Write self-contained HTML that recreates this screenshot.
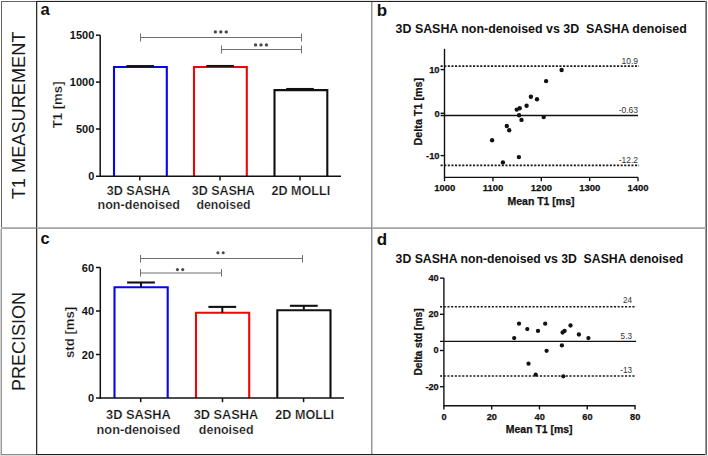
<!DOCTYPE html>
<html><head><meta charset="utf-8"><title>Figure</title>
<style>
html,body{margin:0;padding:0;background:#fff;}
body{width:708px;height:456px;overflow:hidden;}
svg{display:block;font-family:"Liberation Sans", sans-serif;}
text.t{stroke:#fff;stroke-width:0.22px;paint-order:fill;}
text.k{stroke:#111;stroke-width:0.25px;}
</style></head><body>
<svg width="708" height="456" viewBox="0 0 708 456">
<rect width="708" height="456" fill="#fff"/>
<rect x="37" y="0" width="670" height="1" fill="#e8e8e8"/>
<rect x="1" y="1" width="35" height="1" fill="#666"/>
<rect x="36" y="1" width="671" height="1" fill="#222"/>
<rect x="1" y="1" width="1" height="227" fill="#666"/>
<rect x="0" y="229" width="1" height="227" fill="#d0d0d0"/>
<rect x="1" y="229" width="1" height="226" fill="#999"/>
<rect x="0" y="455" width="708" height="1" fill="#dcdcdc"/>
<rect x="1" y="454" width="35" height="1" fill="#888"/>
<rect x="36" y="454" width="671" height="1" fill="#1e1e1e"/>
<rect x="705" y="1" width="1" height="454" fill="#9a9a9a"/>
<rect x="706" y="1" width="1" height="454" fill="#626262"/>
<rect x="36" y="1" width="1" height="454" fill="#2a2a2a"/>
<rect x="37" y="2" width="1" height="452" fill="#c4c4c4"/>
<rect x="371" y="2" width="1" height="452" fill="#999"/>
<rect x="372" y="2" width="1" height="452" fill="#c8c8c8"/>
<rect x="1" y="227" width="705" height="1" fill="#b8b8b8"/>
<rect x="1" y="228" width="705" height="1" fill="#a8a8a8"/>
<rect x="36" y="227" width="1" height="2" fill="#555"/>
<rect x="371" y="227" width="1" height="2" fill="#888"/>
<text transform="translate(24.6,115.4) rotate(-90)" font-size="18.2" font-weight="normal" text-anchor="middle" fill="#1a1a1a">T1 MEASUREMENT</text>
<text transform="translate(24.8,341.5) rotate(-90)" font-size="18" font-weight="normal" text-anchor="middle" fill="#1a1a1a">PRECISION</text>
<text x="40.4" y="15.2" font-size="16.6" font-weight="bold" text-anchor="start" fill="#111" >a</text>
<text x="376.7" y="15.5" font-size="17" font-weight="bold" text-anchor="start" fill="#111" >b</text>
<text x="40.6" y="244.4" font-size="16.4" font-weight="bold" text-anchor="start" fill="#111" >c</text>
<text x="376.7" y="244.6" font-size="17" font-weight="bold" text-anchor="start" fill="#111" >d</text>
<path d="M114.0,176.2 V67.0 H166.8 V176.2" fill="none" stroke="#0505f0" stroke-width="2.1" stroke-linejoin="miter"/>
<path d="M194.0,176.2 V67.0 H246.8 V176.2" fill="none" stroke="#ee0505" stroke-width="2.1" stroke-linejoin="miter"/>
<path d="M274.5,176.2 V90.1 H327.29999999999995 V176.2" fill="none" stroke="#111" stroke-width="2.1" stroke-linejoin="miter"/>
<line x1="126.39999999999999" y1="66.0" x2="154.0" y2="66.0" stroke="#111" stroke-width="1.9" />
<line x1="206.29999999999998" y1="65.9" x2="233.9" y2="65.9" stroke="#111" stroke-width="1.9" />
<line x1="286.2" y1="89.1" x2="313.8" y2="89.1" stroke="#111" stroke-width="2.3" />
<line x1="100.2" y1="35.2" x2="100.2" y2="177" stroke="#111" stroke-width="1.5" />
<line x1="96" y1="35.2" x2="100.2" y2="35.2" stroke="#111" stroke-width="1.5" />
<line x1="96" y1="82.1" x2="100.2" y2="82.1" stroke="#111" stroke-width="1.5" />
<line x1="96" y1="129.0" x2="100.2" y2="129.0" stroke="#111" stroke-width="1.5" />
<line x1="96" y1="176.2" x2="341" y2="176.2" stroke="#111" stroke-width="1.5" />
<line x1="139.8" y1="176.2" x2="139.8" y2="180.4" stroke="#111" stroke-width="1.5" />
<line x1="220" y1="176.2" x2="220" y2="180.4" stroke="#111" stroke-width="1.5" />
<line x1="300" y1="176.2" x2="300" y2="180.4" stroke="#111" stroke-width="1.5" />
<text x="94.3" y="39.2" font-size="11.5" font-weight="bold" text-anchor="end" fill="#111" textLength="24.46" lengthAdjust="spacingAndGlyphs" >1500</text>
<text x="94.3" y="86.1" font-size="11.5" font-weight="bold" text-anchor="end" fill="#111" textLength="24.46" lengthAdjust="spacingAndGlyphs" >1000</text>
<text x="94.3" y="133.0" font-size="11.5" font-weight="bold" text-anchor="end" fill="#111" textLength="18.35" lengthAdjust="spacingAndGlyphs" >500</text>
<text x="94.3" y="180.2" font-size="11.5" font-weight="bold" text-anchor="end" fill="#111" textLength="6.12" lengthAdjust="spacingAndGlyphs" >0</text>
<text class="t" transform="translate(61.5,104.9) rotate(-90)" font-size="13.2" font-weight="bold" text-anchor="middle" fill="#111">T1 [ms]</text>
<line x1="140.5" y1="37.5" x2="301.5" y2="37.5" stroke="#707070" stroke-width="1" />
<line x1="140.5" y1="33.5" x2="140.5" y2="41.5" stroke="#707070" stroke-width="1" />
<line x1="301.5" y1="33.5" x2="301.5" y2="41.5" stroke="#707070" stroke-width="1" />
<line x1="221.5" y1="49.5" x2="301.5" y2="49.5" stroke="#707070" stroke-width="1" />
<line x1="221.5" y1="45.5" x2="221.5" y2="53.5" stroke="#707070" stroke-width="1" />
<line x1="301.5" y1="45.5" x2="301.5" y2="53.5" stroke="#707070" stroke-width="1" />
<circle cx="215.35" cy="31.9" r="1.7" fill="#4a4a4a"/>
<circle cx="220.80" cy="31.9" r="1.7" fill="#4a4a4a"/>
<circle cx="226.25" cy="31.9" r="1.7" fill="#4a4a4a"/>
<circle cx="255.55" cy="44.9" r="1.7" fill="#4a4a4a"/>
<circle cx="261.00" cy="44.9" r="1.7" fill="#4a4a4a"/>
<circle cx="266.45" cy="44.9" r="1.7" fill="#4a4a4a"/>
<text class="t" x="138.5" y="194.7" font-size="12.3" font-weight="bold" text-anchor="middle" fill="#111" textLength="63.6" lengthAdjust="spacingAndGlyphs" >3D SASHA</text>
<text class="t" x="138.7" y="209.3" font-size="12.3" font-weight="bold" text-anchor="middle" fill="#111" textLength="82.4" lengthAdjust="spacingAndGlyphs" >non-denoised</text>
<text class="t" x="223.3" y="194.7" font-size="12.3" font-weight="bold" text-anchor="middle" fill="#111" textLength="63.2" lengthAdjust="spacingAndGlyphs" >3D SASHA</text>
<text class="t" x="223.5" y="209.3" font-size="12.3" font-weight="bold" text-anchor="middle" fill="#111" textLength="54.1" lengthAdjust="spacingAndGlyphs" >denoised</text>
<text class="t" x="300.85" y="194.7" font-size="12.3" font-weight="bold" text-anchor="middle" fill="#111" textLength="58.6" lengthAdjust="spacingAndGlyphs" >2D MOLLI</text>
<path d="M114.5,398 V287.3 H167.7 V398" fill="none" stroke="#0505f0" stroke-width="2.1" stroke-linejoin="miter"/>
<path d="M196.0,398 V312.7 H249.2 V398" fill="none" stroke="#ee0505" stroke-width="2.1" stroke-linejoin="miter"/>
<path d="M277.29999999999995,398 V310.2 H330.5 V398" fill="none" stroke="#111" stroke-width="2.1" stroke-linejoin="miter"/>
<line x1="127.1" y1="282.5" x2="154.9" y2="282.5" stroke="#111" stroke-width="2.1" />
<line x1="141.0" y1="282.5" x2="141.0" y2="287.3" stroke="#111" stroke-width="2" />
<line x1="208.4" y1="306.9" x2="236.20000000000002" y2="306.9" stroke="#111" stroke-width="2.1" />
<line x1="222.3" y1="306.9" x2="222.3" y2="312.7" stroke="#111" stroke-width="2" />
<line x1="289.90000000000003" y1="305.8" x2="317.7" y2="305.8" stroke="#111" stroke-width="2.1" />
<line x1="303.8" y1="305.8" x2="303.8" y2="310.2" stroke="#111" stroke-width="2" />
<line x1="100.3" y1="267.5" x2="100.3" y2="399" stroke="#111" stroke-width="1.5" />
<line x1="96" y1="267.5" x2="100.3" y2="267.5" stroke="#111" stroke-width="1.5" />
<line x1="96" y1="311.0" x2="100.3" y2="311.0" stroke="#111" stroke-width="1.5" />
<line x1="96" y1="354.5" x2="100.3" y2="354.5" stroke="#111" stroke-width="1.5" />
<line x1="96" y1="398" x2="344" y2="398" stroke="#111" stroke-width="1.5" />
<line x1="140.7" y1="398" x2="140.7" y2="402.2" stroke="#111" stroke-width="1.5" />
<line x1="222.5" y1="398" x2="222.5" y2="402.2" stroke="#111" stroke-width="1.5" />
<line x1="303.6" y1="398" x2="303.6" y2="402.2" stroke="#111" stroke-width="1.5" />
<text x="94.0" y="271.5" font-size="11.5" font-weight="bold" text-anchor="end" fill="#111" textLength="12.23" lengthAdjust="spacingAndGlyphs" >60</text>
<text x="94.0" y="315.0" font-size="11.5" font-weight="bold" text-anchor="end" fill="#111" textLength="12.23" lengthAdjust="spacingAndGlyphs" >40</text>
<text x="94.0" y="358.5" font-size="11.5" font-weight="bold" text-anchor="end" fill="#111" textLength="12.23" lengthAdjust="spacingAndGlyphs" >20</text>
<text x="94.0" y="402.0" font-size="11.5" font-weight="bold" text-anchor="end" fill="#111" textLength="6.12" lengthAdjust="spacingAndGlyphs" >0</text>
<text class="t" transform="translate(73.6,332.4) rotate(-90)" font-size="13.2" font-weight="bold" text-anchor="middle" fill="#111">std [ms]</text>
<line x1="140.5" y1="258.5" x2="302.5" y2="258.5" stroke="#707070" stroke-width="1" />
<line x1="140.5" y1="255" x2="140.5" y2="262.5" stroke="#707070" stroke-width="1" />
<line x1="302.5" y1="255" x2="302.5" y2="262.5" stroke="#707070" stroke-width="1" />
<line x1="140.5" y1="273" x2="221.5" y2="273" stroke="#707070" stroke-width="1.2" />
<line x1="140.5" y1="269" x2="140.5" y2="276.6" stroke="#707070" stroke-width="1" />
<line x1="221.5" y1="269" x2="221.5" y2="276.6" stroke="#707070" stroke-width="1" />
<circle cx="217.90" cy="252.8" r="1.55" fill="#4a4a4a"/>
<circle cx="223.20" cy="252.8" r="1.55" fill="#4a4a4a"/>
<circle cx="177.45" cy="269.6" r="1.55" fill="#4a4a4a"/>
<circle cx="182.75" cy="269.6" r="1.55" fill="#4a4a4a"/>
<text class="t" x="138.4" y="419.0" font-size="12.3" font-weight="bold" text-anchor="middle" fill="#111" textLength="64.7" lengthAdjust="spacingAndGlyphs" >3D SASHA</text>
<text class="t" x="138.4" y="433.8" font-size="12.3" font-weight="bold" text-anchor="middle" fill="#111" textLength="83.7" lengthAdjust="spacingAndGlyphs" >non-denoised</text>
<text class="t" x="226" y="419.0" font-size="12.3" font-weight="bold" text-anchor="middle" fill="#111" textLength="64.7" lengthAdjust="spacingAndGlyphs" >3D SASHA</text>
<text class="t" x="226.2" y="433.8" font-size="12.3" font-weight="bold" text-anchor="middle" fill="#111" textLength="54.7" lengthAdjust="spacingAndGlyphs" >denoised</text>
<text class="t" x="304.7" y="419.0" font-size="12.3" font-weight="bold" text-anchor="middle" fill="#111" textLength="58.8" lengthAdjust="spacingAndGlyphs" >2D MOLLI</text>
<text x="395.6" y="33.0" font-size="12.3" font-weight="bold" text-anchor="start" fill="#111" textLength="291.2" lengthAdjust="spacingAndGlyphs" >3D SASHA non-denoised vs 3D&#160; SASHA denoised</text>
<line x1="444.5" y1="48.8" x2="444.5" y2="181.2" stroke="#111" stroke-width="1.4" />
<line x1="440.6" y1="69.6" x2="444.5" y2="69.6" stroke="#111" stroke-width="1.4" />
<line x1="440.6" y1="113.3" x2="444.5" y2="113.3" stroke="#111" stroke-width="1.4" />
<line x1="440.6" y1="155.6" x2="444.5" y2="155.6" stroke="#111" stroke-width="1.4" />
<line x1="444.5" y1="177.4" x2="638.2" y2="177.4" stroke="#111" stroke-width="1.4" />
<line x1="492.95000000000005" y1="177.4" x2="492.95000000000005" y2="181.2" stroke="#111" stroke-width="1.4" />
<line x1="541.3000000000001" y1="177.4" x2="541.3000000000001" y2="181.2" stroke="#111" stroke-width="1.4" />
<line x1="589.65" y1="177.4" x2="589.65" y2="181.2" stroke="#111" stroke-width="1.4" />
<line x1="638.0" y1="177.4" x2="638.0" y2="181.2" stroke="#111" stroke-width="1.4" />
<text class="k" x="444.70000000000005" y="191.0" font-size="9.5" font-weight="bold" text-anchor="middle" fill="#111" >1000</text>
<text class="k" x="493.05000000000007" y="191.0" font-size="9.5" font-weight="bold" text-anchor="middle" fill="#111" >1100</text>
<text class="k" x="541.4000000000001" y="191.0" font-size="9.5" font-weight="bold" text-anchor="middle" fill="#111" >1200</text>
<text class="k" x="589.75" y="191.0" font-size="9.5" font-weight="bold" text-anchor="middle" fill="#111" >1300</text>
<text class="k" x="638.1" y="191.0" font-size="9.5" font-weight="bold" text-anchor="middle" fill="#111" >1400</text>
<text class="k" x="439.6" y="72.94999999999999" font-size="9.4" font-weight="bold" text-anchor="end" fill="#111" >10</text>
<text class="k" x="439.6" y="116.64999999999999" font-size="9.4" font-weight="bold" text-anchor="end" fill="#111" >0</text>
<text class="k" x="439.6" y="158.95" font-size="9.4" font-weight="bold" text-anchor="end" fill="#111" >-10</text>
<text class="k" x="541" y="204.9" font-size="10.4" font-weight="bold" text-anchor="middle" fill="#111" textLength="67" lengthAdjust="spacingAndGlyphs" >Mean T1 [ms]</text>
<text class="k" transform="translate(422.2,111.65) rotate(-90)" font-size="10.7" font-weight="bold" text-anchor="middle" fill="#111" textLength="67.6" lengthAdjust="spacingAndGlyphs">Delta T1 [ms]</text>
<line x1="440.6" y1="66.1" x2="639" y2="66.1" stroke="#1a1a1a" stroke-width="1.6" stroke-dasharray="2.1 1.5"/>
<line x1="440.6" y1="115.5" x2="638" y2="115.5" stroke="#111" stroke-width="1.4" />
<line x1="440.6" y1="165.4" x2="639" y2="165.4" stroke="#1a1a1a" stroke-width="1.6" stroke-dasharray="2.1 1.5"/>
<text x="638" y="63.5" font-size="8.5" font-weight="normal" text-anchor="end" fill="#333" >10.9</text>
<text x="638" y="112.9" font-size="8.5" font-weight="normal" text-anchor="end" fill="#333" >-0.63</text>
<text x="638" y="162.9" font-size="8.5" font-weight="normal" text-anchor="end" fill="#333" >-12.2</text>
<circle cx="561.6" cy="70" r="2.2" fill="#111"/>
<circle cx="546.1" cy="81.1" r="2.2" fill="#111"/>
<circle cx="530.9" cy="96.8" r="2.2" fill="#111"/>
<circle cx="537" cy="99.3" r="2.2" fill="#111"/>
<circle cx="526.6" cy="105.7" r="2.2" fill="#111"/>
<circle cx="519.7" cy="108.2" r="2.2" fill="#111"/>
<circle cx="516.8" cy="109.6" r="2.2" fill="#111"/>
<circle cx="519.1" cy="115.3" r="2.2" fill="#111"/>
<circle cx="521.5" cy="119.9" r="2.2" fill="#111"/>
<circle cx="543.7" cy="117.1" r="2.2" fill="#111"/>
<circle cx="506.8" cy="126" r="2.2" fill="#111"/>
<circle cx="509.2" cy="130.3" r="2.2" fill="#111"/>
<circle cx="492.1" cy="140.3" r="2.2" fill="#111"/>
<circle cx="518.9" cy="157.1" r="2.2" fill="#111"/>
<circle cx="502.9" cy="162.4" r="2.2" fill="#111"/>
<text x="395.6" y="263.0" font-size="12.3" font-weight="bold" text-anchor="start" fill="#111" textLength="287.6" lengthAdjust="spacingAndGlyphs" >3D SASHA non-denoised vs 3D&#160; SASHA denoised</text>
<line x1="443.9" y1="278.1" x2="443.9" y2="406.4" stroke="#111" stroke-width="1.4" />
<line x1="440" y1="278.1" x2="443.9" y2="278.1" stroke="#111" stroke-width="1.4" />
<line x1="440" y1="314.3" x2="443.9" y2="314.3" stroke="#111" stroke-width="1.4" />
<line x1="440" y1="350.5" x2="443.9" y2="350.5" stroke="#111" stroke-width="1.4" />
<line x1="440" y1="386.7" x2="443.9" y2="386.7" stroke="#111" stroke-width="1.4" />
<line x1="443.9" y1="405.7" x2="635.6" y2="405.7" stroke="#111" stroke-width="1.4" />
<line x1="443.9" y1="405.7" x2="443.9" y2="409.5" stroke="#111" stroke-width="1.4" />
<text class="k" x="444.09999999999997" y="419.7" font-size="9.2" font-weight="bold" text-anchor="middle" fill="#111" >0</text>
<line x1="491.67999999999995" y1="405.7" x2="491.67999999999995" y2="409.5" stroke="#111" stroke-width="1.4" />
<text class="k" x="491.87999999999994" y="419.7" font-size="9.2" font-weight="bold" text-anchor="middle" fill="#111" >20</text>
<line x1="539.4599999999999" y1="405.7" x2="539.4599999999999" y2="409.5" stroke="#111" stroke-width="1.4" />
<text class="k" x="539.66" y="419.7" font-size="9.2" font-weight="bold" text-anchor="middle" fill="#111" >40</text>
<line x1="587.24" y1="405.7" x2="587.24" y2="409.5" stroke="#111" stroke-width="1.4" />
<text class="k" x="587.44" y="419.7" font-size="9.2" font-weight="bold" text-anchor="middle" fill="#111" >60</text>
<line x1="635.02" y1="405.7" x2="635.02" y2="409.5" stroke="#111" stroke-width="1.4" />
<text class="k" x="635.22" y="419.7" font-size="9.2" font-weight="bold" text-anchor="middle" fill="#111" >80</text>
<text class="k" x="438.7" y="281.0" font-size="9.2" font-weight="bold" text-anchor="end" fill="#111" >40</text>
<text class="k" x="438.7" y="317.2" font-size="9.2" font-weight="bold" text-anchor="end" fill="#111" >20</text>
<text class="k" x="438.7" y="353.4" font-size="9.2" font-weight="bold" text-anchor="end" fill="#111" >0</text>
<text class="k" x="438.7" y="389.59999999999997" font-size="9.2" font-weight="bold" text-anchor="end" fill="#111" >-20</text>
<text class="k" x="539.2" y="433.2" font-size="10.4" font-weight="bold" text-anchor="middle" fill="#111" textLength="66.8" lengthAdjust="spacingAndGlyphs" >Mean T1 [ms]</text>
<text class="k" transform="translate(421.7,342) rotate(-90)" font-size="10.1" font-weight="bold" text-anchor="middle" fill="#111" textLength="67.1" lengthAdjust="spacingAndGlyphs">Delta std [ms]</text>
<line x1="440" y1="306.8" x2="636.2" y2="306.8" stroke="#1a1a1a" stroke-width="1.5" stroke-dasharray="2.1 1.6"/>
<line x1="440" y1="341.4" x2="636" y2="341.4" stroke="#111" stroke-width="1.4" />
<line x1="440" y1="375.9" x2="636.2" y2="375.9" stroke="#1a1a1a" stroke-width="1.5" stroke-dasharray="2.1 1.6"/>
<text x="632.0" y="303.0" font-size="8.2" font-weight="normal" text-anchor="end" fill="#333" >24</text>
<text x="632.0" y="338.9" font-size="8.2" font-weight="normal" text-anchor="end" fill="#333" >5.3</text>
<text x="632.2" y="373.4" font-size="8.2" font-weight="normal" text-anchor="end" fill="#333" >-13</text>
<circle cx="514.2" cy="338.1" r="2.15" fill="#111"/>
<circle cx="519" cy="323.7" r="2.15" fill="#111"/>
<circle cx="527.3" cy="329.1" r="2.15" fill="#111"/>
<circle cx="538" cy="330.9" r="2.15" fill="#111"/>
<circle cx="545.2" cy="323.7" r="2.15" fill="#111"/>
<circle cx="546.6" cy="350.8" r="2.15" fill="#111"/>
<circle cx="528.5" cy="363.7" r="2.15" fill="#111"/>
<circle cx="535.7" cy="374.7" r="2.15" fill="#111"/>
<circle cx="562.6" cy="332.5" r="2.15" fill="#111"/>
<circle cx="564.6" cy="330.9" r="2.15" fill="#111"/>
<circle cx="570.5" cy="325.5" r="2.15" fill="#111"/>
<circle cx="578.9" cy="334.5" r="2.15" fill="#111"/>
<circle cx="588.4" cy="338.1" r="2.15" fill="#111"/>
<circle cx="561.9" cy="345.4" r="2.15" fill="#111"/>
<circle cx="563.3" cy="376.3" r="2.15" fill="#111"/>
</svg>
</body></html>
